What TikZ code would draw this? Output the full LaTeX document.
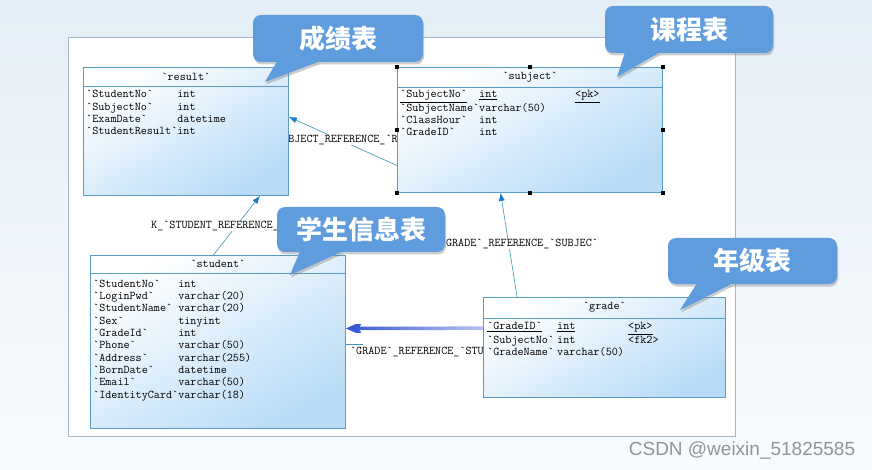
\documentclass[tikz,border=0pt]{standalone}
\usepackage{fontspec}
\usepackage{tikz}
\usetikzlibrary{positioning, shapes, shadows, arrows.meta, fadings}
\newfontfamily\cjk{Noto Sans CJK SC}
\newfontfamily\wmfont{Liberation Sans}
\definecolor{bgTop}{HTML}{E4EEF6}
\definecolor{bgBot}{HTML}{F8FBFD}
\definecolor{frameGray}{HTML}{A5B7C6}
\definecolor{tblLine}{HTML}{5A9CC8}
\definecolor{tblFill}{HTML}{B9DCF6}
\definecolor{connTeal}{HTML}{3C96B4}
\definecolor{tipBlue}{HTML}{1A78C8}
\definecolor{tagBlue}{HTML}{5E9CDD}
\definecolor{hiBlue}{HTML}{3558D8}
\pgfdeclarelayer{bg}
\pgfsetlayers{bg,main}
\tikzfading[name=fadeRight, left color=transparent!0, right color=transparent!65]
\tikzset{
	tblbox/.style={draw=tblLine, line width=.8pt, top color=white, bottom color=tblFill, shading angle=30, inner sep=0pt, anchor=north west},
	tblfont/.style={font=\fontsize{11.8}{12.3}\selectfont\ttfamily, inner sep=0pt},
	tblrows/.style={tblfont, anchor=north west},
	hdline/.style={tblLine, line width=.8pt},
	fk/.style={connTeal, line width=.6pt, -{Latex[length=8pt,width=6pt,color=tipBlue]}},
	fkLabel/.style={tblfont, fill=white, inner sep=.5pt},
	handle/.style={fill=black},
	hiArrow/.style={hiBlue, line width=3.5pt, path fading=fadeRight, -{Stealth[length=17pt,width=15pt,inset=4pt]}},
	tag/.style={rounded corners=8pt, fill=tagBlue, text=white, font=\cjk\bfseries\fontsize{26}{30}\selectfont,
		drop shadow={opacity=.4, shadow xshift=1pt, shadow yshift=-2.5pt}},
	tagTail/.style={fill=tagBlue, drop shadow={opacity=.4, shadow xshift=1pt, shadow yshift=-2.5pt}}
}

\begin{document}
\begin{tikzpicture}[x=1pt, y=-1pt]
\useasboundingbox (0,0) rectangle (872,470);
\begin{pgfonlayer}{bg}
\shade[top color=bgTop, bottom color=bgBot] (0,0) rectangle (872,470);
\draw[frameGray, line width=1pt, fill=white] (68,38) rectangle (735,436);
\end{pgfonlayer}

% tables
\node[tblbox, minimum width=205pt, minimum height=128pt] (result) at (83,67) {};
\draw[hdline] ([yshift=-19pt]result.north west) -- ([yshift=-19pt]result.north east);
\node[tblfont] (resultTitle) at ([yshift=-9.5pt]result.north) {`result`};
\node[tblrows] (resultRows) at ([xshift=3pt,yshift=-22pt]result.north west) {%
\begin{tabular}{@{}l@{}l@{}}
`StudentNo` & int\\
`SubjectNo` & int\\
`ExamDate` & datetime\\
`StudentResult` & int
\end{tabular}};

\node[tblbox, minimum width=265pt, minimum height=125pt] (subject) at (397,67) {};
\draw[hdline] ([yshift=-20pt]subject.north west) -- ([yshift=-20pt]subject.north east);
\node[tblfont] (subjectTitle) at ([yshift=-10pt]subject.north) {`subject`};
\node[tblrows] (subjectRows) at ([xshift=3pt,yshift=-22pt]subject.north west) {%
\begin{tabular}{@{}l@{}p{96pt}@{}l@{}}
\underline{`SubjectNo`} & \underline{int} & \underline{<pk>}\\
`SubjectName` & varchar(50) & \\
`ClassHour` & int & \\
`GradeID` & int &
\end{tabular}};

\node[tblbox, minimum width=255pt, minimum height=173pt] (student) at (90,255) {};
\draw[hdline] ([yshift=-18pt]student.north west) -- ([yshift=-18pt]student.north east);
\node[tblfont] (studentTitle) at ([yshift=-9pt]student.north) {`student`};
\node[tblrows] (studentRows) at ([xshift=3pt,yshift=-23.5pt]student.north west) {%
\begin{tabular}{@{}l@{}l@{}}
`StudentNo` & int\\
`LoginPwd` & varchar(20)\\
`StudentName` & varchar(20)\\
`Sex` & tinyint\\
`GradeId` & int\\
`Phone` & varchar(50)\\
`Address` & varchar(255)\\
`BornDate` & datetime\\
`Email` & varchar(50)\\
`IdentityCard` & varchar(18)
\end{tabular}};

\node[tblbox, minimum width=242pt, minimum height=100pt] (grade) at (483,297) {};
\draw[hdline] ([yshift=-21pt]grade.north west) -- ([yshift=-21pt]grade.north east);
\node[tblfont] (gradeTitle) at ([yshift=-10.5pt]grade.north) {`grade`};
\node[tblrows] (gradeRows) at ([xshift=4pt,yshift=-24pt]grade.north west) {%
\begin{tabular}{@{}p{70pt}@{}p{71pt}@{}l@{}}
\underline{`GradeID`} & \underline{int} & \underline{<pk>}\\
`SubjectNo` & int & <fk2>\\
`GradeName` & varchar(50) &
\end{tabular}};

\foreach \a in {north west,north,north east,east,south east,south,south west,west}
	\fill[handle] (subject.\a) ++(-2,-2) rectangle ++(4,4);

% references
\begin{pgfonlayer}{bg}
\draw[fk] (subject.195) -- (result.8);
\draw[fk] (student.93) -- (result.-41);
\draw[fk] (grade.150) -- (subject.-115);
\draw[connTeal, line width=.6pt] (student.-1) -- ++(17,0);
\node[fkLabel] (lblSubject) at (343,140) {BJECT\_REFERENCE\_`R};
\node[fkLabel] (lblStudent) at (215,226) {K\_`STUDENT\_REFERENCE\_};
\node[fkLabel] (lblGrade) at (522,244) {GRADE`\_REFERENCE\_`SUBJEC`};
\node[fkLabel] (lblGradeStu) at (420,352) {`GRADE`\_REFERENCE\_`STUD};
\end{pgfonlayer}

\draw[hiArrow] (grade.171) -- (student.6);

% callouts
\node[tag, minimum width=170pt, minimum height=47pt] (tagResult) at (338,38.5) {成绩表};
\fill[tagTail] ([xshift=-61pt,yshift=1pt]tagResult.south) -- (265,82) -- ([xshift=-18pt,yshift=1pt]tagResult.south) -- cycle;
\node[tag, minimum width=168pt, minimum height=47pt] (tagSubject) at (689,29.5) {课程表};
\fill[tagTail] ([xshift=-64pt,yshift=1pt]tagSubject.south) -- (617,77) -- ([xshift=-29pt,yshift=1pt]tagSubject.south) -- cycle;
\node[tag, minimum width=168pt, minimum height=45pt] (tagStudent) at (361,229.5) {学生信息表};
\fill[tagTail] ([xshift=-61pt,yshift=1pt]tagStudent.south) -- (290,275) -- ([xshift=-18pt,yshift=1pt]tagStudent.south) -- cycle;
\node[tag, minimum width=169pt, minimum height=46pt] (tagGrade) at (752.5,261) {年级表};
\fill[tagTail] ([xshift=-55.5pt,yshift=1pt]tagGrade.south) -- (680,310) -- ([xshift=-19.5pt,yshift=1pt]tagGrade.south) -- cycle;

\node[font=\wmfont\fontsize{19}{22}\selectfont, text=black!42, inner sep=0pt] (watermark) at (742,451) {CSDN @weixin\_51825585};
\end{tikzpicture}
\end{document}
